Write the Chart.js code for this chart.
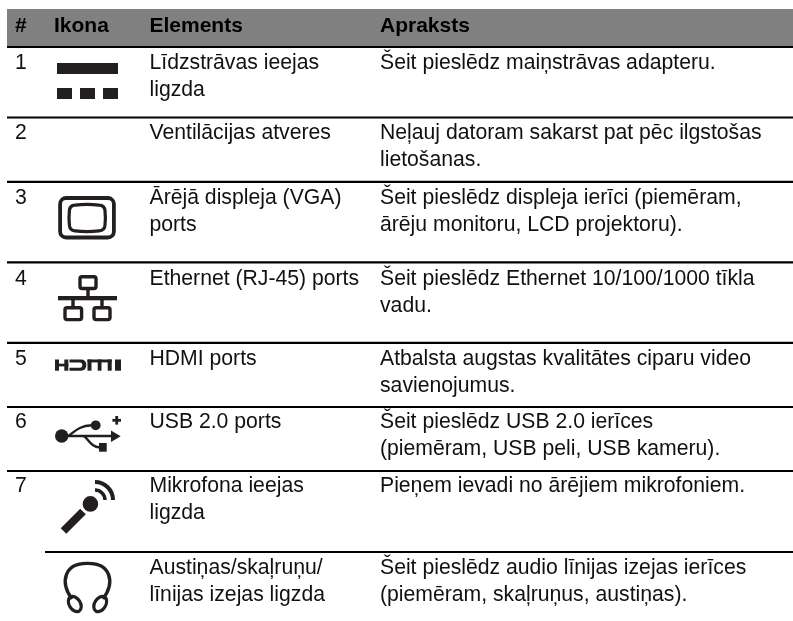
<!DOCTYPE html>
<html><head><meta charset="utf-8">
<style>html,body{margin:0;padding:0;background:#fff}canvas{display:block}</style>
<script src="https://cdn.jsdelivr.net/npm/chart.js@4/dist/chart.umd.min.js"></script>
</head><body><canvas id="c" width="793" height="621"></canvas>
<script>
const headers = ['#','Ikona','Elements','Apraksts'];
const rowNumbers = ['1','2','3','4','5','6','7',''];
const elementLines = [
 ['Līdzstrāvas ieejas','ligzda'],
 ['Ventilācijas atveres'],
 ['Ārējā displeja (VGA)','ports'],
 ['Ethernet (RJ-45) ports'],
 ['HDMI ports'],
 ['USB 2.0 ports'],
 ['Mikrofona ieejas','ligzda'],
 ['Austiņas/skaļruņu/','līnijas izejas ligzda']
];
const descriptionLines = [
 ['Šeit pieslēdz maiņstrāvas adapteru.'],
 ['Neļauj datoram sakarst pat pēc ilgstošas','lietošanas.'],
 ['Šeit pieslēdz displeja ierīci (piemēram,','ārēju monitoru, LCD projektoru).'],
 ['Šeit pieslēdz Ethernet 10/100/1000 tīkla','vadu.'],
 ['Atbalsta augstas kvalitātes ciparu video','savienojumus.'],
 ['Šeit pieslēdz USB 2.0 ierīces','(piemēram, USB peli, USB kameru).'],
 ['Pieņem ievadi no ārējiem mikrofoniem.'],
 ['Šeit pieslēdz audio līnijas izejas ierīces','(piemēram, skaļruņus, austiņas).']
];
// table layout (in axis units, 1 unit = 1 px)
const columnX = [15,54,149.5,380];
const ruleY = [46.8,117.5,181.8,262.4,342.8,407,471,552];
const ruleStart = [7,7,7,7,7,7,7,45];
const baseY = [69,139.3,204,285,365,428.3,492.3,574];
const lineGap = 26.8;
const INK = '#231f20';

const ruleSets = ruleY.map((y,i)=>({type:'scatter',showLine:true,data:[{x:ruleStart[i],y},{x:793,y}],
  borderColor:'#000',borderWidth:2.2,pointRadius:0,clip:false}));
const headerSet = {type:'scatter',showLine:true,data:[{x:7,y:27.5},{x:793,y:27.5}],
  borderColor:'#808080',borderWidth:37,pointRadius:0,borderCapStyle:'butt',clip:false};

function icons(ctx,X,Y){
  const rect=(x0,y0,x1,y1)=>ctx.fillRect(X(x0),Y(y0),X(x1)-X(x0),Y(y1)-Y(y0));
  const line=(pts,w,cap)=>{ctx.lineWidth=w;ctx.lineCap=cap||'butt';ctx.beginPath();pts.forEach((p,i)=>i?ctx.lineTo(X(p[0]),Y(p[1])):ctx.moveTo(X(p[0]),Y(p[1])));ctx.stroke();};
  const rr=(x0,y0,x1,y1,r,w)=>{ctx.lineWidth=w;ctx.beginPath();ctx.roundRect(X(x0),Y(y0),X(x1)-X(x0),Y(y1)-Y(y0),r);ctx.stroke();};
  const disc=(x,y,r)=>{ctx.beginPath();ctx.arc(X(x),Y(y),r,0,Math.PI*2);ctx.fill();};
  ctx.fillStyle=INK;ctx.strokeStyle=INK;
  // DC
  rect(57,63,118,74);rect(57,88,72,99);rect(80,88,95,99);rect(103,88,118,99);
  // VGA
  rr(60.1,198,113.9,237.5,6,3.8);
  ctx.lineWidth=3.2;ctx.beginPath();
  ctx.moveTo(X(75),Y(205.2));ctx.quadraticCurveTo(X(87),Y(203.6),X(99),Y(205.2));
  ctx.quadraticCurveTo(X(104.8),Y(205.4),X(105),Y(211));
  ctx.quadraticCurveTo(X(105.8),Y(218),X(105),Y(225));
  ctx.quadraticCurveTo(X(104.8),Y(230.6),X(99),Y(230.8));
  ctx.quadraticCurveTo(X(87),Y(232.4),X(75),Y(230.8));
  ctx.quadraticCurveTo(X(69.6),Y(230.6),X(69.4),Y(225));
  ctx.quadraticCurveTo(X(68.6),Y(218),X(69.4),Y(211));
  ctx.quadraticCurveTo(X(69.6),Y(205.4),X(75),Y(205.2));
  ctx.closePath();ctx.stroke();
  // Ethernet
  rr(80,276.7,96,288.5,2,3.4);
  rect(86.3,290,89.7,297);
  rect(58,296,117,300.3);
  rect(71.3,300,74.7,307);rect(100.3,300,103.7,307);
  rr(65,307.7,81.6,319.6,2,3.4);
  rr(94,307.7,110,319.6,2,3.4);
  // HDMI
  rect(55,359.5,59,370.7);rect(64.3,359.5,68.3,370.7);rect(55,363.7,68.3,366.4);
  ctx.beginPath();ctx.moveTo(X(69.5),Y(359.5));ctx.lineTo(X(81),Y(359.5));
  ctx.quadraticCurveTo(X(86.3),Y(359.5),X(86.3),Y(365));
  ctx.quadraticCurveTo(X(86.3),Y(370.7),X(81),Y(370.7));ctx.lineTo(X(69.5),Y(370.7));ctx.lineTo(X(69.5),Y(367.8));
  ctx.lineTo(X(80),Y(367.8));ctx.quadraticCurveTo(X(82.3),Y(367.8),X(82.3),Y(365));
  ctx.quadraticCurveTo(X(82.3),Y(362.4),X(80),Y(362.4));ctx.lineTo(X(69.5),Y(362.4));ctx.closePath();ctx.fill();
  rect(87.5,359.5,111.7,362.4);rect(87.5,359.5,91.5,370.7);rect(97.7,359.5,101.5,370.7);rect(107.7,359.5,111.7,370.7);
  rect(115,359.5,121,370.7);
  // USB
  disc(61.7,436,6.7);disc(95.7,425.3,4.9);
  line([[62,436],[113,436]],2.6);
  ctx.beginPath();ctx.moveTo(X(111),Y(430.5));ctx.lineTo(X(120.7),Y(436.2));ctx.lineTo(X(111),Y(442));ctx.closePath();ctx.fill();
  ctx.lineWidth=2.4;ctx.beginPath();ctx.moveTo(X(68),Y(436));ctx.bezierCurveTo(X(74),Y(433),X(77),Y(426),X(92),Y(425.3));ctx.stroke();
  ctx.beginPath();ctx.moveTo(X(84),Y(436));ctx.bezierCurveTo(X(89),Y(440),X(91),Y(447),X(100),Y(447.5));ctx.stroke();
  rect(99,443,106.7,451.7);
  rect(115.3,416,118.1,424.6);rect(112.4,418.9,121,421.7);
  // Microphone
  line([[63.5,531],[83,511.5]],8);
  disc(90.4,503.9,7.8);
  ctx.lineWidth=4;ctx.beginPath();ctx.arc(X(95),Y(500),18,-Math.PI/2,0);ctx.stroke();
  ctx.lineWidth=3.4;ctx.beginPath();ctx.arc(X(95),Y(500),10,-Math.PI/2,0);ctx.stroke();
  // Headphones
  ctx.lineWidth=3.4;ctx.lineCap='butt';ctx.beginPath();
  ctx.moveTo(X(72),Y(599));ctx.bezierCurveTo(X(59.5),Y(582),X(64.5),Y(563),X(87.5),Y(563.4));
  ctx.bezierCurveTo(X(110.5),Y(563),X(115.5),Y(582),X(103),Y(599));ctx.stroke();
  ctx.lineWidth=3.2;
  ctx.beginPath();ctx.ellipse(X(74.8),Y(604),5.6,8.3,-0.55,0,Math.PI*2);ctx.stroke();
  ctx.beginPath();ctx.ellipse(X(100.2),Y(604),5.6,8.3,0.55,0,Math.PI*2);ctx.stroke();
}

const tablePlugin = {id:'table',afterDatasetsDraw(chart){
  const ctx=chart.ctx,sx=chart.scales.x,sy=chart.scales.y;
  const X=v=>sx.getPixelForValue(v),Y=v=>sy.getPixelForValue(v);
  ctx.save();
  ctx.textBaseline='alphabetic';ctx.textAlign='left';
  ctx.fillStyle='#000';ctx.font='bold 21px "Liberation Sans"';
  headers.forEach((h,i)=>ctx.fillText(h,X(columnX[i]),Y(31.6)));
  ctx.fillStyle='#111';ctx.font='21.2px "Liberation Sans"';
  rowNumbers.forEach((n,r)=>{
    if(n)ctx.fillText(n,X(columnX[0]),Y(baseY[r]));
    elementLines[r].forEach((t,k)=>ctx.fillText(t,X(columnX[2]),Y(baseY[r]+k*lineGap)));
    descriptionLines[r].forEach((t,k)=>ctx.fillText(t,X(columnX[3]),Y(baseY[r]+k*lineGap)));
  });
  icons(ctx,X,Y);
  ctx.restore();
}};

new Chart(document.getElementById('c'),{
  type:'scatter',
  data:{datasets:[headerSet,...ruleSets]},
  options:{responsive:false,animation:false,events:[],
    layout:{padding:0},
    plugins:{legend:{display:false},tooltip:{enabled:false}},
    scales:{
      x:{type:'linear',min:0,max:793,display:false},
      y:{type:'linear',min:0,max:621,reverse:true,display:false}
    }},
  plugins:[tablePlugin]
});
</script></body></html>
